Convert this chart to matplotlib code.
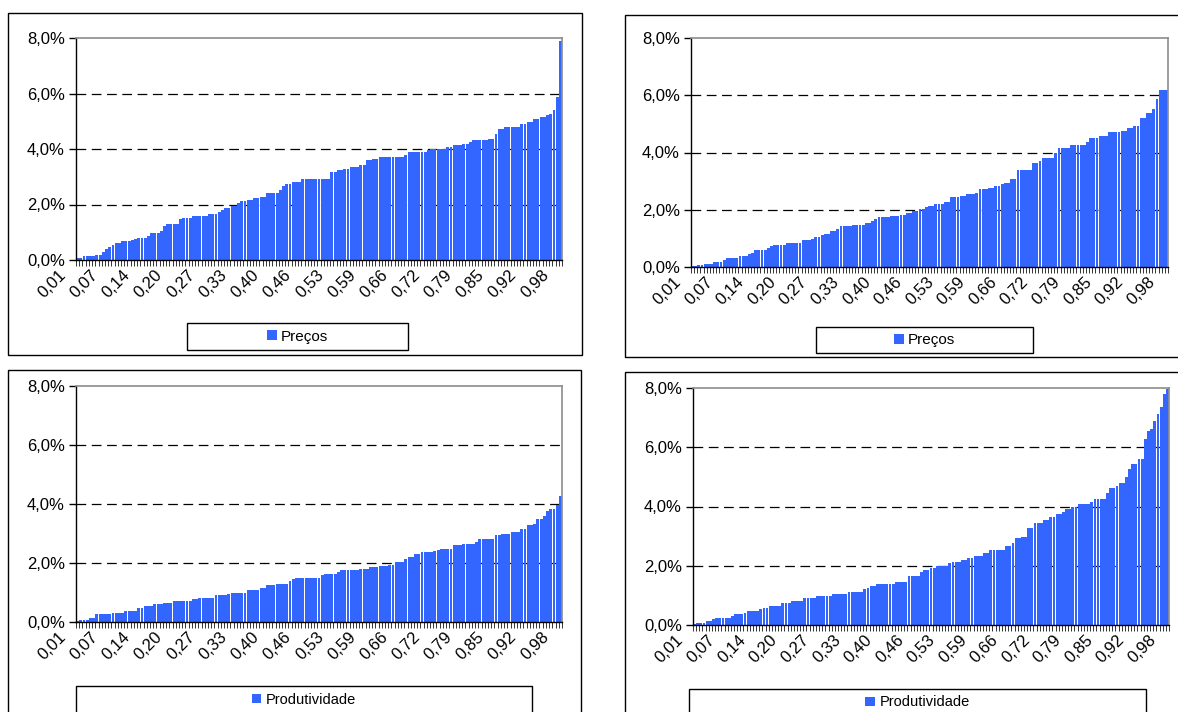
import matplotlib
matplotlib.use('Agg')
import matplotlib.pyplot as plt
import matplotlib.transforms as mtransforms
from matplotlib.patches import Rectangle

plt.rcParams['font.family'] = ['Liberation Sans', 'DejaVu Sans']
plt.rcParams['lines.scale_dashes'] = False

# %% data (percent, sorted, 151 bars per panel)
x_labels = ['0,01', '0,07', '0,14', '0,20', '0,27', '0,33', '0,40', '0,46',
            '0,53', '0,59', '0,66', '0,72', '0,79', '0,85', '0,92', '0,98']
y_ticks = [0, 2, 4, 6, 8]
y_labels = ['0,0%', '2,0%', '4,0%', '6,0%', '8,0%']

precos_a = [0.08, 0.08, 0.13, 0.13, 0.13, 0.13, 0.19, 0.19, 0.30, 0.38,
            0.48, 0.54, 0.60, 0.60, 0.68, 0.68, 0.68, 0.72, 0.77, 0.80,
            0.80, 0.80, 0.86, 0.98, 0.98, 0.98, 1.03, 1.22, 1.28, 1.28,
            1.28, 1.28, 1.46, 1.52, 1.52, 1.52, 1.58, 1.58, 1.58, 1.58,
            1.58, 1.64, 1.64, 1.64, 1.72, 1.80, 1.89, 1.89, 1.95, 1.95,
            2.04, 2.13, 2.13, 2.16, 2.16, 2.23, 2.23, 2.28, 2.28, 2.43,
            2.43, 2.43, 2.43, 2.51, 2.66, 2.75, 2.75, 2.81, 2.81, 2.81,
            2.93, 2.93, 2.93, 2.93, 2.93, 2.93, 2.93, 2.93, 2.93, 3.17,
            3.17, 3.23, 3.23, 3.29, 3.29, 3.35, 3.35, 3.35, 3.41, 3.41,
            3.59, 3.59, 3.65, 3.65, 3.71, 3.71, 3.71, 3.71, 3.71, 3.71,
            3.71, 3.71, 3.77, 3.89, 3.89, 3.89, 3.89, 3.89, 3.89, 3.95,
            4.01, 4.01, 4.01, 4.01, 4.01, 4.07, 4.07, 4.13, 4.13, 4.13,
            4.17, 4.17, 4.25, 4.34, 4.34, 4.34, 4.34, 4.34, 4.37, 4.37,
            4.55, 4.73, 4.73, 4.79, 4.79, 4.79, 4.81, 4.81, 4.89, 4.89,
            4.97, 4.97, 5.07, 5.07, 5.15, 5.15, 5.23, 5.25, 5.39, 5.89,
            7.88]

precos_b = [0.02, 0.02, 0.06, 0.06, 0.12, 0.12, 0.12, 0.18, 0.18, 0.18,
            0.23, 0.32, 0.32, 0.32, 0.32, 0.37, 0.37, 0.37, 0.44, 0.50,
            0.60, 0.61, 0.61, 0.61, 0.67, 0.72, 0.76, 0.76, 0.78, 0.78,
            0.84, 0.84, 0.84, 0.84, 0.84, 0.96, 0.96, 0.96, 0.99, 1.05,
            1.05, 1.11, 1.17, 1.17, 1.25, 1.25, 1.34, 1.43, 1.43, 1.43,
            1.43, 1.48, 1.48, 1.48, 1.48, 1.54, 1.54, 1.61, 1.69, 1.73,
            1.73, 1.73, 1.73, 1.78, 1.78, 1.78, 1.82, 1.82, 1.90, 1.90,
            1.95, 1.95, 2.01, 2.01, 2.10, 2.14, 2.14, 2.20, 2.20, 2.20,
            2.28, 2.28, 2.43, 2.43, 2.43, 2.48, 2.48, 2.54, 2.54, 2.54,
            2.59, 2.71, 2.71, 2.71, 2.77, 2.77, 2.83, 2.83, 2.89, 2.94,
            2.94, 3.06, 3.06, 3.39, 3.39, 3.39, 3.39, 3.39, 3.62, 3.62,
            3.71, 3.80, 3.80, 3.80, 3.80, 3.97, 4.15, 4.15, 4.15, 4.15,
            4.26, 4.26, 4.26, 4.26, 4.26, 4.35, 4.50, 4.50, 4.50, 4.56,
            4.56, 4.56, 4.70, 4.70, 4.70, 4.70, 4.75, 4.75, 4.87, 4.87,
            4.93, 4.93, 5.20, 5.20, 5.37, 5.37, 5.51, 5.86, 6.17, 6.17,
            6.17]

produt_a = [0.03, 0.08, 0.08, 0.08, 0.14, 0.14, 0.26, 0.26, 0.26, 0.26,
            0.26, 0.32, 0.32, 0.32, 0.32, 0.36, 0.36, 0.36, 0.36, 0.49,
            0.49, 0.54, 0.54, 0.54, 0.60, 0.60, 0.60, 0.66, 0.66, 0.66,
            0.71, 0.71, 0.71, 0.71, 0.71, 0.71, 0.77, 0.77, 0.82, 0.82,
            0.82, 0.82, 0.82, 0.90, 0.90, 0.90, 0.90, 0.96, 0.99, 0.99,
            0.99, 0.99, 0.99, 1.10, 1.10, 1.10, 1.10, 1.16, 1.16, 1.24,
            1.24, 1.24, 1.29, 1.29, 1.29, 1.29, 1.39, 1.45, 1.49, 1.49,
            1.49, 1.49, 1.49, 1.49, 1.49, 1.49, 1.58, 1.64, 1.64, 1.64,
            1.64, 1.69, 1.75, 1.75, 1.75, 1.75, 1.75, 1.75, 1.81, 1.81,
            1.81, 1.86, 1.86, 1.86, 1.90, 1.90, 1.90, 1.94, 1.94, 2.03,
            2.03, 2.03, 2.12, 2.20, 2.20, 2.32, 2.32, 2.37, 2.37, 2.37,
            2.37, 2.40, 2.44, 2.49, 2.49, 2.49, 2.49, 2.60, 2.60, 2.60,
            2.66, 2.66, 2.66, 2.66, 2.71, 2.82, 2.82, 2.82, 2.82, 2.82,
            2.96, 2.96, 2.99, 2.99, 2.99, 3.05, 3.05, 3.05, 3.14, 3.14,
            3.28, 3.28, 3.33, 3.50, 3.50, 3.59, 3.75, 3.84, 3.84, 3.95,
            4.26]

produt_b = [0.04, 0.08, 0.08, 0.08, 0.13, 0.15, 0.19, 0.25, 0.25, 0.25,
            0.25, 0.25, 0.30, 0.36, 0.36, 0.36, 0.42, 0.47, 0.47, 0.47,
            0.47, 0.53, 0.58, 0.58, 0.64, 0.64, 0.64, 0.64, 0.75, 0.75,
            0.75, 0.82, 0.82, 0.82, 0.82, 0.92, 0.92, 0.92, 0.92, 0.99,
            0.99, 0.99, 0.99, 0.99, 1.04, 1.04, 1.04, 1.04, 1.04, 1.10,
            1.10, 1.10, 1.10, 1.10, 1.20, 1.26, 1.33, 1.33, 1.38, 1.38,
            1.38, 1.38, 1.38, 1.38, 1.44, 1.44, 1.44, 1.44, 1.66, 1.66,
            1.66, 1.66, 1.78, 1.85, 1.85, 1.93, 1.93, 1.99, 1.99, 1.99,
            1.99, 2.08, 2.13, 2.13, 2.13, 2.19, 2.19, 2.27, 2.27, 2.33,
            2.33, 2.33, 2.44, 2.44, 2.53, 2.53, 2.53, 2.53, 2.53, 2.67,
            2.67, 2.78, 2.92, 2.92, 2.98, 2.98, 3.26, 3.26, 3.43, 3.43,
            3.43, 3.54, 3.54, 3.65, 3.65, 3.73, 3.73, 3.82, 3.90, 3.90,
            3.99, 3.99, 4.07, 4.07, 4.07, 4.07, 4.16, 4.24, 4.24, 4.24,
            4.24, 4.47, 4.61, 4.61, 4.70, 4.78, 4.78, 4.98, 5.26, 5.45,
            5.45, 5.62, 5.62, 6.29, 6.54, 6.63, 6.88, 7.13, 7.36, 7.81,
            7.98]

# %% layout in pixels (x0, x1, y_top, y_bottom)
W, H = 1178, 712
panels = [
    (precos_a, (76, 562, 38, 260), 'Preços', 11, (187, 408, 323, 350)),
    (precos_b, (691, 1168, 38, 267), 'Preços', 11, (816, 1033, 327, 353)),
    (produt_a, (76, 562, 386, 622), 'Produtividade', 10.5, (76, 532, 686, 740)),
    (produt_b, (693, 1169, 388, 625), 'Produtividade', 10.5, (689, 1146, 689, 740)),
]
boxes = [(8, 582, 13, 355), (625, 1200, 15, 357),
         (8, 581, 370, 740), (625, 1200, 372, 740)]

BLUE = '#3366ff'

fig = plt.figure(figsize=(W / 100, H / 100), dpi=100)


def px_rect(x0, x1, yt, yb):
    return [x0 / W, 1 - yb / H, (x1 - x0) / W, (yb - yt) / H]


for (x0, x1, yt, yb) in boxes:
    fig.patches.append(Rectangle((x0 / W, 1 - yb / H), (x1 - x0) / W, (yb - yt) / H,
                                 transform=fig.transFigure, fill=False,
                                 edgecolor='black', linewidth=1.0, zorder=0))

for values, rect, name, lfs, leg in panels:
    ax = fig.add_axes(px_rect(*rect))
    n = len(values)
    bars = ax.bar(range(n), values, width=0.9, color=BLUE, linewidth=0,
                  label=name, zorder=2)

    for lvl in [2, 4, 6]:
        ax.axhline(lvl, color='black', linewidth=0.9, dashes=(7, 4), zorder=1)

    ax.set_xlim(-0.5, n - 0.5)
    ax.set_ylim(0, 8)
    ax.set_yticks(y_ticks)
    ax.set_yticklabels(y_labels, fontsize=12)

    pos = list(range(0, n, 10))
    ax.set_xticks(pos)
    ax.set_xticklabels(x_labels, fontsize=12, rotation=45, ha='right',
                       va='center', rotation_mode='anchor')
    ax.set_xticks([i - 0.5 for i in range(n + 1)], minor=True)
    ax.tick_params(axis='x', which='major', length=0, pad=9)
    ax.tick_params(axis='x', which='minor', length=4, width=0.7, color='#333333')
    ax.tick_params(axis='y', length=5, width=1, pad=3)
    offset = mtransforms.ScaledTranslation(-14 / 100, 0, fig.dpi_scale_trans)
    for lab in ax.get_xticklabels():
        lab.set_transform(lab.get_transform() + offset)

    for side in ['top', 'right']:
        ax.spines[side].set_color('#8c8c8c')
        ax.spines[side].set_linewidth(1.2)
    for side in ['left', 'bottom']:
        ax.spines[side].set_color('black')
        ax.spines[side].set_linewidth(1.0)

    # legend box
    lx0, lx1, lyt, lyb = leg
    fig.patches.append(Rectangle((lx0 / W, 1 - lyb / H), (lx1 - lx0) / W, (lyb - lyt) / H,
                                 transform=fig.transFigure, fill=False,
                                 edgecolor='black', linewidth=1.0))
    cy = min(lyt + 13.5, (lyt + lyb) / 2)
    fig.legend(handles=[bars], labels=[name], loc='center',
               bbox_to_anchor=((lx0 + lx1) / 2 / W, 1 - cy / H),
               frameon=False, fontsize=lfs, handlelength=0.65, handleheight=0.65,
               handletextpad=0.3, borderpad=0)

fig.savefig('out.png', dpi=100)
